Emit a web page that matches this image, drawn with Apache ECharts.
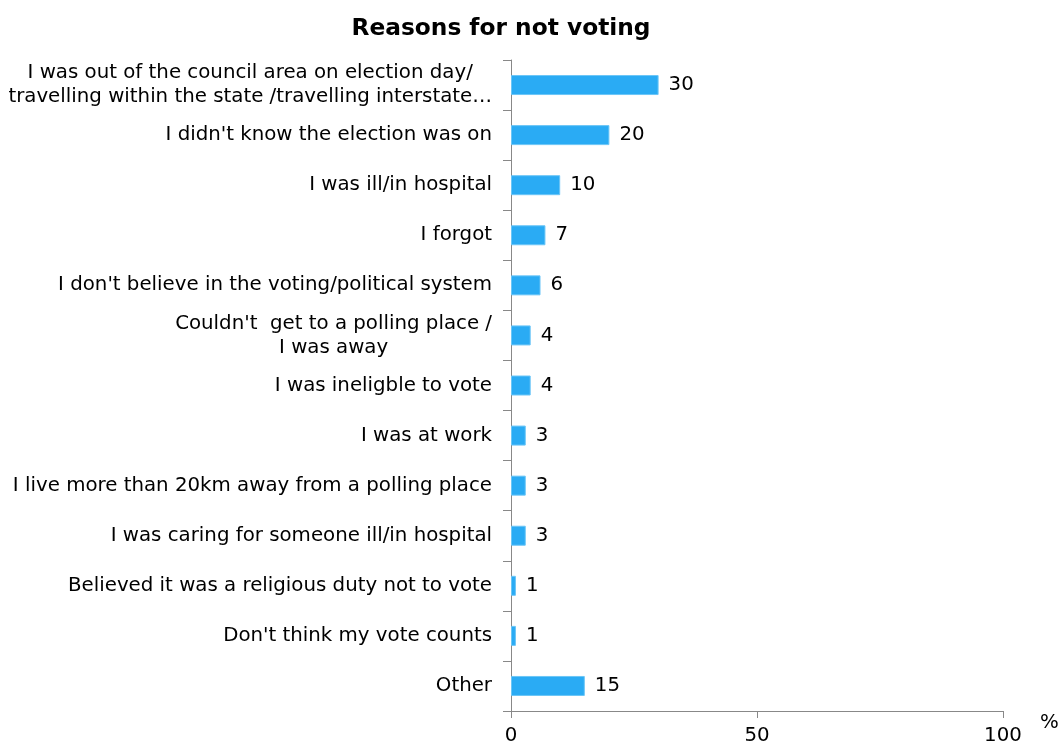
<!DOCTYPE html>
<html><head><meta charset="utf-8">
<script src="https://cdn.jsdelivr.net/npm/echarts@6/dist/echarts.min.js"></script>
<style>html,body{margin:0;padding:0;background:#fff}#c{width:1063px;height:747px}</style>
</head><body><div id="c"></div>
<script>
const categories = [
  "I was out of the council area on election day/\ntravelling within the state /travelling interstate…",
  "I didn't know the election was on",
  "I was ill/in hospital",
  "I forgot",
  "I don't believe in the voting/political system",
  "Couldn't  get to a polling place /\nI was away",
  "I was ineligble to vote",
  "I was at work",
  "I live more than 20km away from a polling place",
  "I was caring for someone ill/in hospital",
  "Believed it was a religious duty not to vote",
  "Don't think my vote counts",
  "Other"
];
const values = [30, 20, 10, 7, 6, 4, 4, 3, 3, 3, 1, 1, 15];
const xTicks = [0, 50, 100];

const FONT = "DejaVu Sans";
const FS = 19.8;
const chart = echarts.init(document.getElementById('c'), null, {renderer: 'canvas'});
chart.setOption({
  animation: false,
  title: {
    text: 'Reasons for not voting', left: 496, top: 12, textAlign: 'center',
    textStyle: {fontFamily: FONT, fontSize: 23.3, fontWeight: 'bold', color: '#000'}
  },
  grid: {left: 511, right: 60, top: 60, bottom: 36, containLabel: false},
  xAxis: {
    type: 'value', min: 0, max: 100, interval: 50,
    name: '%', nameLocation: 'end', nameGap: 37,
    nameTextStyle: {fontFamily: FONT, fontSize: FS, color: '#000', verticalAlign: 'top', padding: [2, 0, 0, 0]},
    axisLine: {show: true, lineStyle: {color: '#888', width: 1}},
    axisTick: {show: true, length: 7, lineStyle: {color: '#888'}},
    splitLine: {show: false},
    axisLabel: {fontFamily: FONT, fontSize: FS, color: '#000', margin: 15,
      formatter: v => xTicks.includes(v) ? String(v) : ''}
  },
  yAxis: {
    type: 'category', data: categories, inverse: true,
    axisLine: {show: true, lineStyle: {color: '#888', width: 1}},
    axisTick: {show: true, length: 8, alignWithLabel: false, lineStyle: {color: '#888'}},
    axisLabel: {
      fontFamily: FONT, fontSize: FS, color: '#000', margin: 19, lineHeight: 24,
      formatter: v => v.split('\n').map(s => '{c|' + s + '}').join('\n'),
      rich: {c: {fontFamily: FONT, fontSize: FS, color: '#000', align: 'center', lineHeight: 24}}
    }
  },
  series: [{
    type: 'bar', data: values, barWidth: 20,
    itemStyle: {color: '#2AABF4', borderColor: '#6CC6F7', borderWidth: 1},
    label: {show: true, position: 'right', distance: 10, fontFamily: FONT, fontSize: FS, color: '#000'}
  }]
});
</script></body></html>
